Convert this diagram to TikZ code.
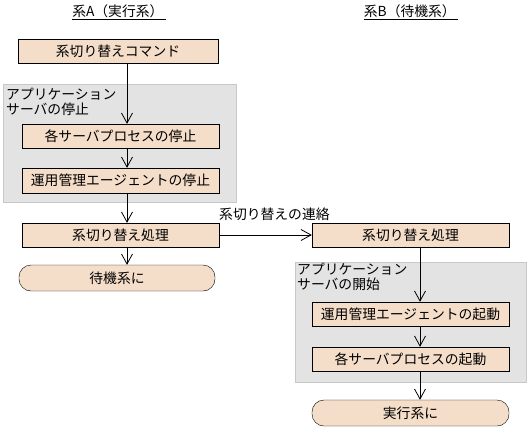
\documentclass[tikz,border=0pt]{standalone}
\usepackage{fontspec}
\setmainfont{Noto Sans CJK JP}
\usetikzlibrary{arrows.meta}
\definecolor{boxfill}{RGB}{245,222,201}
\definecolor{grpfill}{RGB}{227,227,227}
\definecolor{grpline}{RGB}{200,200,200}
\tikzset{
  jpfont/.style={font=\fontsize{13.8}{15}\selectfont},
  procbox/.style={draw, fill=boxfill, minimum width=197pt, minimum height=24pt, inner sep=0pt, jpfont},
  termbox/.style={procbox, rounded corners=12pt, minimum height=26pt},
  grpbox/.style={draw=grpline, fill=grpfill},
  grplabel/.style={anchor=north west, align=left, inner sep=0pt, jpfont},
  flow/.style={-{Straight Barb[length=10pt,width=11pt]}, line width=0.8pt},
}
\begin{document}
\begin{tikzpicture}[x=1pt,y=-1pt]
  \useasboundingbox (0,0) rectangle (529,431);
  \coordinate (colA) at (127,0);
  \coordinate (colB) at (420,0);
  % titles
  \node[jpfont] (titleA) at (119,12) {\underline{系A（実行系）\,}};
  \node[jpfont] (titleB) at (411,12) {\underline{系B（待機系）\,}};
  % system A
  \draw[grpbox] (3,84) rectangle (236,202);
  \node[grplabel] (grpA) at (6,88) {アプリケーション\\サーバの停止};
  \node[procbox, minimum width=200pt] (cmd) at (118,51) {系切り替えコマンド};
  \node[procbox] (stopsrv) at (120.5,136) {各サーバプロセスの停止};
  \node[procbox, minimum height=25pt] (stopagt) at (120.5,180.5) {運用管理エージェントの停止};
  \node[procbox] (swA) at (120.5,235) {系切り替え処理};
  \node[termbox, minimum width=196pt] (stdby) at (117,278) {待機系に};
  % system B
  \draw[grpbox] (295,262) rectangle (526,382);
  \node[grplabel] (grpB) at (297,263) {アプリケーション\\サーバの開始};
  \node[procbox] (swB) at (410.5,235) {系切り替え処理};
  \node[procbox] (startagt) at (410.5,314) {運用管理エージェントの起動};
  \node[procbox] (startsrv) at (410.5,359) {各サーバプロセスの起動};
  \node[termbox] (active) at (410.5,413) {実行系に};
  % connectors
  \draw[flow] (cmd.south -| colA) -- (stopsrv.north -| colA);
  \draw[flow] (stopsrv.south -| colA) -- (stopagt.north -| colA);
  \draw[flow] (stopagt.south -| colA) -- (swA.north -| colA);
  \draw[flow] (swA.south -| colA) -- (stdby.north -| colA);
  \draw[flow] (swA.east) -- (swB.west);
  \node[jpfont, anchor=west, inner sep=0pt] (msg) at (219,214) {系切り替えの連絡};
  \draw[flow] (swB.south -| colB) -- (startagt.north -| colB);
  \draw[flow] (startagt.south -| colB) -- (startsrv.north -| colB);
  \draw[flow] (startsrv.south -| colB) -- (active.north -| colB);
\end{tikzpicture}
\end{document}
